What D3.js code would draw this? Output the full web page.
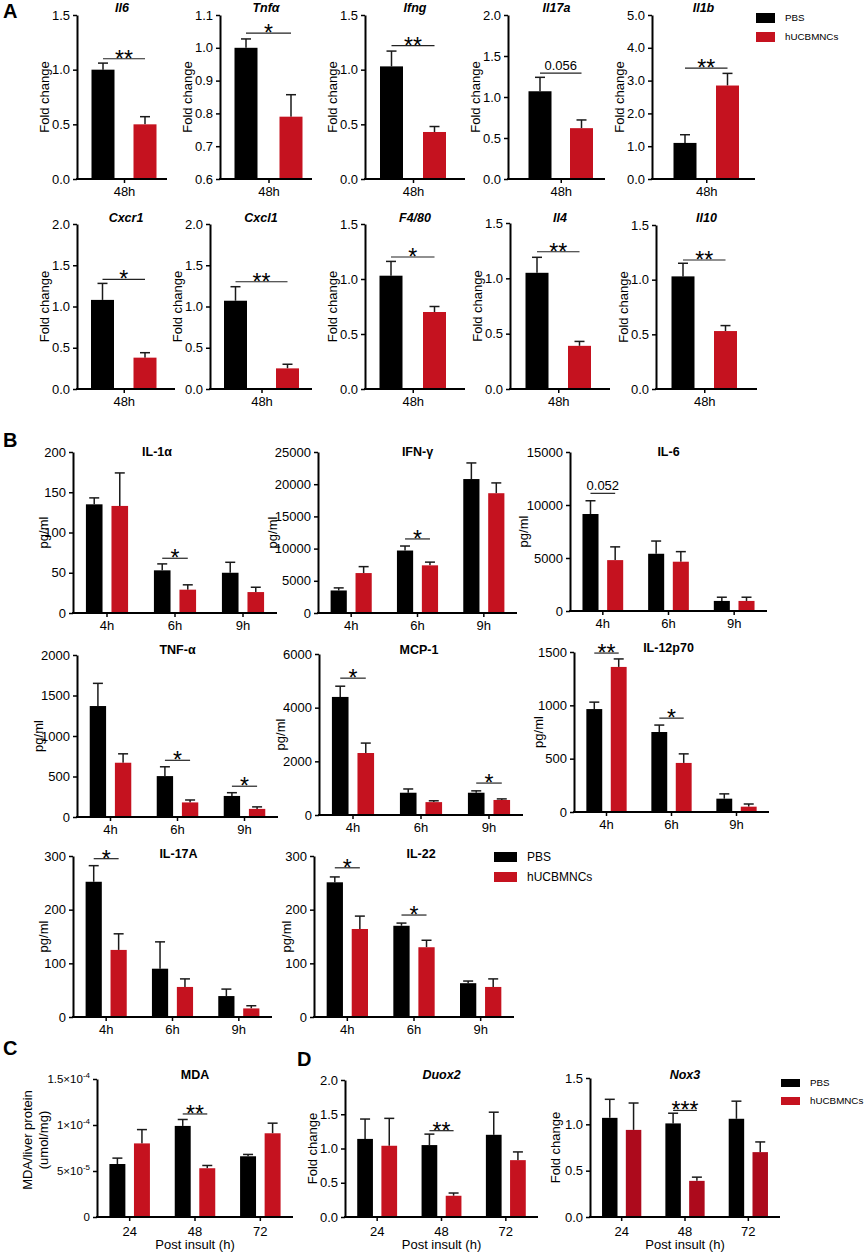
<!DOCTYPE html>
<html>
<head>
<meta charset="utf-8">
<script src="https://cdn.jsdelivr.net/npm/d3@7"></script>
<style>
body { margin: 0; background: #fff; }
svg { display: block; }
</style>
</head>
<body>
<svg id="fig" width="865" height="1256"></svg>
<script>
// ---------- data ----------
var groups = ["PBS", "hUCBMNCs"];

// A: liver qPCR, fold change at 48h
var genesA = ["Il6", "Tnfα", "Ifng", "Il17a", "Il1b", "Cxcr1", "Cxcl1", "F4/80", "Il4", "Il10"];
var timeA = ["48h"];
var pbsA    = [1.00, 1.00, 1.03, 1.07, 1.10, 1.08, 1.07, 1.03, 1.05, 1.03];
var pbsSemA = [0.06, 0.027, 0.14, 0.17, 0.25, 0.20, 0.17, 0.13, 0.14, 0.12];
var hucA    = [0.50, 0.79, 0.43, 0.62, 2.85, 0.38, 0.25, 0.70, 0.39, 0.53];
var hucSemA = [0.07, 0.067, 0.05, 0.10, 0.37, 0.06, 0.05, 0.05, 0.04, 0.05];
var yMinA  = [0, 0.6, 0, 0, 0, 0, 0, 0, 0, 0];
var yMaxA  = [1.5, 1.1, 1.5, 2, 5, 2, 2, 1.5, 1.5, 1.5];
var yStepA = [0.5, 0.1, 0.5, 0.5, 1, 0.5, 0.5, 0.5, 0.5, 0.5];
var sigLabelA = ["**", "*", "**", "0.056", "**", "*", "**", "*", "**", "**"];
var sigAtA    = [1.10, 1.045, 1.22, 1.29, 3.38, 1.33, 1.30, 1.20, 1.24, 1.18];

// B: serum cytokines (pg/ml)
var cytokinesB = ["IL-1α", "IFN-γ", "IL-6", "TNF-α", "MCP-1", "IL-12p70", "IL-17A", "IL-22"];
var timesB = ["4h", "6h", "9h"];
var pbsB    = [[135, 53, 50], [3500, 9700, 20800], [9150, 5400, 950], [1370, 505, 260],
               [4400, 830, 830], [965, 750, 125], [252, 90, 39], [251, 170, 63]];
var pbsSemB = [[8, 8, 13], [400, 700, 2500], [1250, 1200, 350], [280, 115, 40],
               [400, 140, 70], [65, 65, 45], [30, 50, 13], [10, 5, 4]];
var hucB    = [[133, 29, 26], [6200, 7400, 18600], [4800, 4650, 950], [670, 180, 100],
               [2310, 480, 560], [1360, 460, 50], [125, 56, 16], [164, 130, 56]];
var hucSemB = [[41, 6, 6], [1000, 500, 1600], [1250, 950, 350], [110, 30, 25],
               [370, 50, 40], [75, 85, 25], [30, 15, 5], [24, 13, 15]];
var yMaxB  = [200, 25000, 15000, 2000, 6000, 1500, 300, 300];
var yStepB = [50, 5000, 5000, 500, 2000, 500, 100, 100];
// [time index, line height, label]
var sigB = [[[1, 68, "*"]], [[1, 11500, "*"]], [[0, 11100, "0.052"]],
            [[1, 700, "*"], [2, 380, "*"]], [[0, 5100, "*"], [2, 1190, "*"]],
            [[0, 1490, "**"], [1, 880, "*"]], [[0, 295, "*"]], [[0, 278, "*"], [1, 190, "*"]]];

// C: liver MDA
var timesCD = ["24", "48", "72"];
var pbsMDA    = [5.76e-5, 9.9e-5, 6.6e-5];
var pbsSemMDA = [0.64e-5, 0.7e-5, 0.2e-5];
var hucMDA    = [8.0e-5, 5.3e-5, 9.1e-5];
var hucSemMDA = [1.5e-5, 0.3e-5, 1.1e-5];
var mdaTicks = [0, 5e-5, 1e-4, 1.5e-4];
var mdaTickLabels = [["0", ""], ["5×10", "-5"], ["1×10", "-4"], ["1.5×10", "-4"]];
var sigMDA = [[1, 1.12e-4, "**"]];

// D: Duox2 / Nox3 fold change
var genesD = ["Duox2", "Nox3"];
var pbsD    = [[1.14, 1.05, 1.20], [1.07, 1.01, 1.06]];
var pbsSemD = [[0.29, 0.16, 0.33], [0.20, 0.11, 0.19]];
var hucD    = [[1.04, 0.31, 0.83], [0.94, 0.39, 0.70]];
var hucSemD = [[0.40, 0.04, 0.12], [0.29, 0.04, 0.11]];
var yMaxD = [2, 1.5];
var sigD = [[[1, 1.26, "**"]], [[1, 1.15, "***"]]];

// ---------- layout ----------
var FONT = '"Liberation Sans", Arial, Helvetica, sans-serif';
var BLACK = "#000000", RED = "#c5121f", DARKRED = "#ad0a1c";

// [axis x, top, bottom, x-axis length, PBS centre offset, hUCB centre offset]
var layoutA = [[77, 15, 179, 90, 26, 68], [220, 15, 179, 92, 26, 71], [365, 15, 179, 100, 26.5, 69.5],
               [508, 15, 179, 97, 32, 73.5], [652, 15, 179, 103, 33, 75.5],
               [77, 224, 389, 98, 25.5, 68], [210, 224, 389, 102, 25.5, 77.5], [365, 224, 389, 100, 26, 69.5],
               [510, 223, 389, 100, 27, 69.5], [656, 225, 389, 101, 27, 69.5]];
// [axis x, top, bottom, x-axis length, y-label offset, title offset, title baseline]
var layoutB = [[73, 452, 613, 204, -30, -18, 456], [318, 452, 613, 199, -46, 0, 456],
               [570, 452, 611, 197, -47, 0, 456], [77, 655, 817, 201, -39, 0, 654],
               [319, 654, 815, 204, -39, -2, 654], [574, 652, 812, 195, -36, -3, 652],
               [73, 856, 1017, 199, -30, 6, 858], [314, 856, 1017, 200, -28, 7, 858]];

var svg = d3.select("#fig").attr("font-family", FONT);
svg.append("rect").attr("width", 865).attr("height", 1256).attr("fill", "#fff");

function drawChart(o) {
  var g = svg.append("g");
  var y = d3.scaleLinear().domain(o.domain).range([o.bottom, o.top]);
  var base = y(o.domain[0]);

  // error bars, upper whisker only
  groups.forEach(function(grp, gi) {
    var e = g.selectAll(null).data(o.cats).enter().append("g")
      .attr("stroke", "#1a1a1a").attr("stroke-width", 1.5);
    e.append("line")
      .attr("x1", function(d) { return o.xc(d, grp); })
      .attr("x2", function(d) { return o.xc(d, grp); })
      .attr("y1", function(d, i) { return y(o.vals[gi][i]); })
      .attr("y2", function(d, i) { return y(o.vals[gi][i] + o.sems[gi][i]); });
    e.append("line")
      .attr("x1", function(d) { return o.xc(d, grp) - 5; })
      .attr("x2", function(d) { return o.xc(d, grp) + 5; })
      .attr("y1", function(d, i) { return y(o.vals[gi][i] + o.sems[gi][i]); })
      .attr("y2", function(d, i) { return y(o.vals[gi][i] + o.sems[gi][i]); });
  });

  // bars
  groups.forEach(function(grp, gi) {
    g.selectAll(null).data(o.cats).enter().append("rect")
      .attr("x", function(d) { return o.xc(d, grp) - o.bw / 2; })
      .attr("y", function(d, i) { return y(o.vals[gi][i]); })
      .attr("width", o.bw)
      .attr("height", function(d, i) { return base - y(o.vals[gi][i]); })
      .attr("fill", gi ? (o.red || RED) : BLACK);
  });

  // significance brackets
  o.sigs.forEach(function(s) {
    var c = o.cats[s[0]];
    var x1 = o.xc(c, groups[0]), x2 = o.xc(c, groups[1]), ly = y(s[1]);
    g.append("line").attr("x1", x1).attr("x2", x2).attr("y1", ly).attr("y2", ly)
      .attr("stroke", "#222").attr("stroke-width", 1.2);
    var stars = s[2].indexOf("*") >= 0;
    g.append("text").attr("x", (x1 + x2) / 2).attr("y", stars ? ly + 8 : ly - 3)
      .attr("text-anchor", "middle").attr("font-size", stars ? 23 : 13).text(s[2]);
  });

  // y axis
  var ya = g.append("g").attr("transform", "translate(" + o.x0 + ",0)")
    .call(d3.axisLeft(y).tickValues(o.ticks).tickFormat(o.fmt).tickSize(4).tickSizeOuter(0).tickPadding(3));
  ya.attr("font-family", FONT);
  ya.select(".domain").attr("stroke-width", 2);
  ya.selectAll(".tick line").attr("stroke-width", 1.5);
  ya.selectAll(".tick text").attr("font-size", 13).attr("fill", "#000");

  // x axis
  var xa = g.append("g").attr("transform", "translate(0," + base + ")")
    .call(d3.axisBottom(o.xAxis).tickSize(4).tickSizeOuter(0).tickPadding(o.pad || 4));
  xa.attr("font-family", FONT);
  xa.select(".domain").remove();
  xa.selectAll(".tick line").attr("stroke-width", 1.5);
  xa.selectAll(".tick text").attr("font-size", 13).attr("fill", "#000");
  g.append("line").attr("x1", o.x0 - 1).attr("x2", o.x0 + o.len)
    .attr("y1", base).attr("y2", base).attr("stroke", "#000").attr("stroke-width", 2);

  // title
  g.append("text").attr("x", o.x0 + o.len / 2 + (o.tdx || 0)).attr("y", o.titleY)
    .attr("text-anchor", "middle").attr("font-weight", "bold")
    .attr("font-style", o.italic ? "italic" : null).attr("font-size", 12.5).text(o.title);

  // y label (one or two lines)
  o.ylabel.forEach(function(t, i) {
    var lx = o.x0 + o.ylabDx + i * 16;
    g.append("text").attr("transform", "translate(" + lx + "," + ((o.top + o.bottom) / 2 + (o.ylabDy || 0)) + ") rotate(-90)")
      .attr("dy", "0.35em").attr("text-anchor", "middle").attr("font-size", 13).text(t);
  });
  return { g: g, ya: ya, y: y };
}

// ---------- panel A ----------
genesA.forEach(function(gene, k) {
  var L = layoutA[k];
  var px = d3.scalePoint().domain(groups).range([L[0] + L[4], L[0] + L[5]]);
  var cx = L[0] + (L[4] + L[5]) / 2;
  drawChart({
    x0: L[0], top: L[1], bottom: L[2], len: L[3],
    domain: [yMinA[k], yMaxA[k]],
    ticks: d3.range(yMinA[k], yMaxA[k] + yStepA[k] / 2, yStepA[k]),
    fmt: d3.format(".1f"),
    cats: timeA,
    xc: function(c, grp) { return px(grp); },
    bw: 23,
    xAxis: d3.scalePoint().domain(timeA).range([cx, cx]),
    vals: [[pbsA[k]], [hucA[k]]], sems: [[pbsSemA[k]], [hucSemA[k]]],
    sigs: [[0, sigAtA[k], sigLabelA[k]]],
    title: gene, italic: true, titleY: k < 5 ? 12 : 222,
    ylabel: ["Fold change"], ylabDx: -33
  });
});

// ---------- panel B ----------
cytokinesB.forEach(function(name, k) {
  var L = layoutB[k];
  var outer = d3.scaleBand().domain(timesB).range([L[0], L[0] + L[3]]).paddingInner(0.38).paddingOuter(0.19);
  var inner = d3.scaleBand().domain(groups).range([0, outer.bandwidth()]).paddingInner(0.35);
  drawChart({
    x0: L[0], top: L[1], bottom: L[2], len: L[3],
    domain: [0, yMaxB[k]],
    ticks: d3.range(0, yMaxB[k] + 1, yStepB[k]),
    fmt: d3.format("d"),
    cats: timesB,
    xc: function(c, grp) { return outer(c) + inner(grp) + inner.bandwidth() / 2; },
    bw: inner.bandwidth(),
    xAxis: outer,
    vals: [pbsB[k], hucB[k]], sems: [pbsSemB[k], hucSemB[k]],
    sigs: sigB[k],
    title: name, italic: false, titleY: L[6], tdx: L[5],
    ylabel: ["pg/ml"], ylabDx: L[4]
  });
});

// ---------- panel C ----------
(function() {
  var outer = d3.scaleBand().domain(timesCD).range([97, 293]).paddingInner(0.38).paddingOuter(0.19);
  var inner = d3.scaleBand().domain(groups).range([0, outer.bandwidth()]).paddingInner(0.35);
  var r = drawChart({
    x0: 97, top: 1079, bottom: 1217, len: 196,
    domain: [0, 1.5e-4], ticks: mdaTicks, fmt: function(d) { return d; },
    cats: timesCD,
    xc: function(c, grp) { return outer(c) + inner(grp) + inner.bandwidth() / 2; },
    bw: inner.bandwidth(), xAxis: outer, pad: 6,
    vals: [pbsMDA, hucMDA], sems: [pbsSemMDA, hucSemMDA],
    sigs: sigMDA,
    title: "MDA", titleY: 1079,
    ylabel: ["MDA/liver protein", "(umol/mg)"], ylabDx: -70, ylabDy: -8
  });
  r.ya.selectAll(".tick text").each(function(d, i) {
    var t = d3.select(this).text(mdaTickLabels[i][0]).attr("font-size", 11.5);
    if (mdaTickLabels[i][1]) t.append("tspan").attr("dy", -5).attr("font-size", 8).text(mdaTickLabels[i][1]);
  });
  r.g.append("text").attr("x", 97 + 98).attr("y", 1249).attr("text-anchor", "middle")
    .attr("font-size", 13).text("Post insult (h)");
})();

// ---------- panel D ----------
var layoutD = [[345, 1080, 193, -33], [590, 1078, 190, -35]];
genesD.forEach(function(gene, k) {
  var L = layoutD[k];
  var outer = d3.scaleBand().domain(timesCD).range([L[0], L[0] + L[2]]).paddingInner(0.38).paddingOuter(0.19);
  var inner = d3.scaleBand().domain(groups).range([0, outer.bandwidth()]).paddingInner(0.35);
  var r = drawChart({
    x0: L[0], top: L[1], bottom: 1217, len: L[2],
    domain: [0, yMaxD[k]], ticks: d3.range(0, yMaxD[k] + 0.25, 0.5), fmt: d3.format(".1f"),
    cats: timesCD,
    xc: function(c, grp) { return outer(c) + inner(grp) + inner.bandwidth() / 2; },
    bw: inner.bandwidth(), xAxis: outer, pad: 6,
    vals: [pbsD[k], hucD[k]], sems: [pbsSemD[k], hucSemD[k]],
    sigs: sigD[k], red: k === 1 ? DARKRED : RED,
    title: gene, italic: true, titleY: 1079,
    ylabel: ["Fold change"], ylabDx: L[3]
  });
  r.g.append("text").attr("x", L[0] + L[2] / 2).attr("y", 1249).attr("text-anchor", "middle")
    .attr("font-size", 13).text("Post insult (h)");
});

// ---------- legends ----------
function legend(x, y, w, h, gap, fs, dx) {
  var lg = svg.append("g").attr("transform", "translate(" + x + "," + y + ")");
  var items = lg.selectAll("g").data(groups).enter().append("g")
    .attr("transform", function(d, i) { return "translate(0," + i * gap + ")"; });
  items.append("rect").attr("width", w).attr("height", h)
    .attr("fill", function(d, i) { return i ? RED : BLACK; });
  items.append("text").attr("x", dx).attr("y", h / 2).attr("dy", "0.35em")
    .attr("font-size", fs).text(function(d) { return d; });
}
legend(756, 13, 19, 10, 19, 9.8, 29);
legend(494, 852, 23, 10, 20, 12, 33);
legend(781, 1079, 19, 8, 18, 9.8, 29);

// ---------- panel letters ----------
[["A", 3, 18], ["B", 3, 447], ["C", 3, 1055], ["D", 297, 1066]].forEach(function(p) {
  svg.append("text").attr("x", p[1]).attr("y", p[2]).attr("font-size", 20)
    .attr("font-weight", "bold").text(p[0]);
});
</script>
</body>
</html>
